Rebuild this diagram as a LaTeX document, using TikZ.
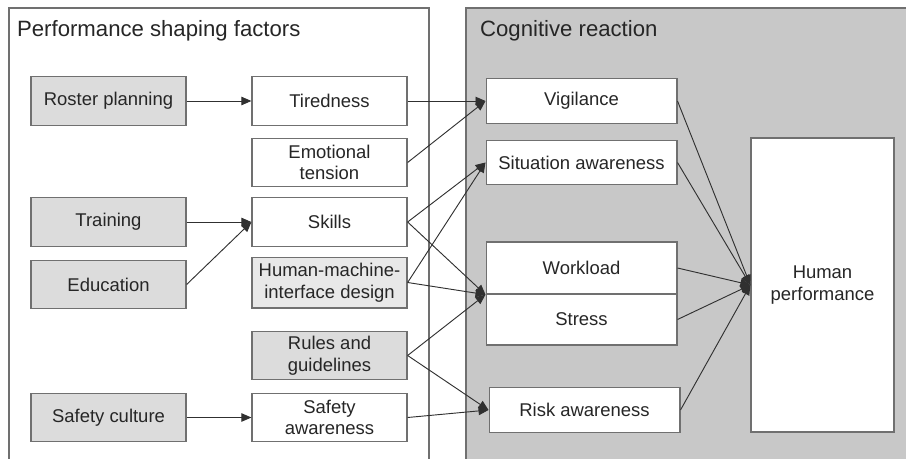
\documentclass[tikz,border=0pt]{standalone}
\usepackage{fontspec}
\setmainfont{Liberation Sans}
\usepackage{tikz}
\usetikzlibrary{shapes,arrows.meta,backgrounds}

\definecolor{panelgray}{HTML}{C8C8C8}
\definecolor{boxgray}{HTML}{DCDCDC}
\definecolor{lightgray}{HTML}{E8E8E8}
\definecolor{edgegray}{HTML}{707070}
\definecolor{linedark}{HTML}{303030}

\begin{document}
\begin{tikzpicture}[x=0.65pt,y=-0.65pt,
  every node/.style={draw=edgegray,line width=0.8pt,shape=rectangle,fill=white,align=center,
    inner sep=1pt,font=\fontsize{12}{14}\selectfont,text=black!85},
  factor/.style={minimum width=100.75pt,minimum height=31.5pt},
  cause/.style={factor,fill=boxgray},
  reaction/.style={minimum width=124pt,minimum height=29pt},
  title/.style={draw=none,fill=none,anchor=west,font=\fontsize{14.4}{16}\selectfont}]

  \clip (0,0) rectangle (906,459);

  % Panels
  \draw[draw=edgegray,line width=0.8pt,fill=white] (9,8) rectangle (429,480);
  \draw[draw=edgegray,line width=0.8pt,fill=panelgray] (466,8) rectangle (930,480);
  \node[title] (psf) at (15,31) {Performance shaping factors};
  \node[title] (cog) at (478,31) {Cognitive reaction};

  % Specification of nodes (position, etc.)
  \node[cause] (roster) at (108.5,101) {Roster planning};
  \node[cause] (train) at (108.5,222) {Training};
  \node[cause] (edu) at (108.5,284.5) {Education};
  \node[cause] (safcul) at (108.5,417.5) {Safety culture};

  \node[factor] (tired) at (329.5,101) {Tiredness};
  \node[factor] (emo) at (329.5,162.5) {Emotional\\tension};
  \node[factor] (skill) at (329.5,222) {Skills};
  \node[factor,fill=lightgray,minimum height=33pt] (hmi) at (329.5,282.5) {Human-machine-\\interface design};
  \node[cause] (rules) at (329.5,355.5) {Rules and\\guidelines};
  \node[factor] (safaw) at (329.5,417.5) {Safety\\awareness};

  \node[reaction] (vig) at (581.5,101) {Vigilance};
  \node[reaction] (sit) at (581.5,162.5) {Situation awareness};
  \node[reaction,minimum height=33.8pt] (work) at (581.5,268) {Workload};
  \node[reaction,minimum height=33.2pt] (stress) at (581.5,319.5) {Stress};
  \node[reaction] (risk) at (584.5,410) {Risk awareness};
  \node[minimum width=93pt,minimum height=191pt] (hp) at (822.5,285) {Human\\performance};

  \coordinate (ws) at (work.south west);

  \begin{scope}[-{Triangle[length=6.5pt,width=5.5pt]},draw=linedark,line width=0.6pt]
    \draw (roster.east) to (tired.west);
    \draw (train.east) to (skill.west);
    \draw (edu.east) to (skill.west);
    \draw (safcul.east) to (safaw.west);
    \draw (tired.east) to (vig.west);
    \draw (emo.east) to (vig.west);
    \draw (skill.east) to (sit.west);
    \draw (skill.east) to (ws);
    \draw (hmi.east) to (sit.west);
    \draw (hmi.east) to (ws);
    \draw (rules.east) to (ws);
    \draw (rules.east) to (risk.west);
    \draw (safaw.east) to (risk.west);
    \draw (vig.east) to (hp.west);
    \draw (sit.east) to (hp.west);
    \draw (work.east) to (hp.west);
    \draw (stress.east) to (hp.west);
    \draw (risk.east) to (hp.west);
  \end{scope}

\end{tikzpicture}
\end{document}
